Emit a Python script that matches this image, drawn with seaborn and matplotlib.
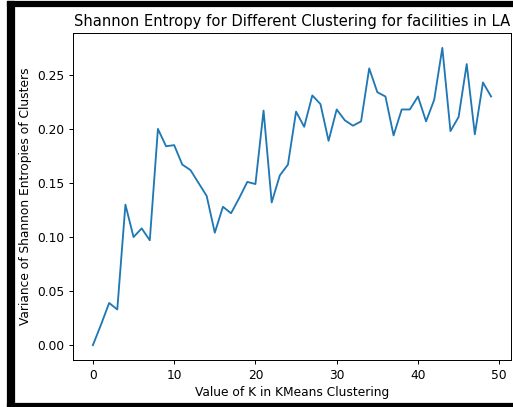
import matplotlib
matplotlib.use("Agg")
import matplotlib.pyplot as plt
from matplotlib.patches import Rectangle
import seaborn as sns
import pandas as pd

k_values = list(range(50))
variance = [0.000, 0.019, 0.039, 0.033, 0.130, 0.100, 0.108, 0.097, 0.200, 0.184,
            0.185, 0.167, 0.162, 0.150, 0.138, 0.104, 0.128, 0.122, 0.136, 0.151,
            0.149, 0.217, 0.132, 0.157, 0.167, 0.216, 0.202, 0.231, 0.223, 0.189,
            0.218, 0.208, 0.203, 0.207, 0.256, 0.234, 0.230, 0.194, 0.218, 0.218,
            0.230, 0.207, 0.227, 0.275, 0.198, 0.211, 0.260, 0.195, 0.243, 0.230]

title = "Shannon Entropy for Different Clustering for facilities in LA"
xlabel = "Value of K in KMeans Clustering"
ylabel = "Variance of Shannon Entropies of Clusters"

df = pd.DataFrame({"k": k_values, "var": variance})

W, H = 513, 407
dpi = 88.3
fig = plt.figure(figsize=(W / dpi, H / dpi), dpi=dpi)
ax = fig.add_axes([73 / W, (H - 360) / H, (511 - 73) / W, (360 - 33) / H])

sns.lineplot(data=df, x="k", y="var", ax=ax, color="#1f77b4", linewidth=1.5)
ax.set_title(title, fontsize=12)
ax.set_xlabel(xlabel, fontsize=10)
ax.set_ylabel(ylabel, fontsize=10)
ax.set_xticks([0, 10, 20, 30, 40, 50])
ax.set_yticks([0.0, 0.05, 0.10, 0.15, 0.20, 0.25])
ax.tick_params(labelsize=10)

# black frame around the image (as in the screenshot)
for (x0, y0, x1, y1) in [(7, 0, 13.5, 406), (7, 401, W, 406), (7, 0, W, 4.5)]:
    fig.patches.append(Rectangle((x0 / W, y0 / H), (x1 - x0) / W, (y1 - y0) / H,
                                 transform=fig.transFigure, color="black", zorder=10))

fig.savefig("out.png", dpi=dpi)
